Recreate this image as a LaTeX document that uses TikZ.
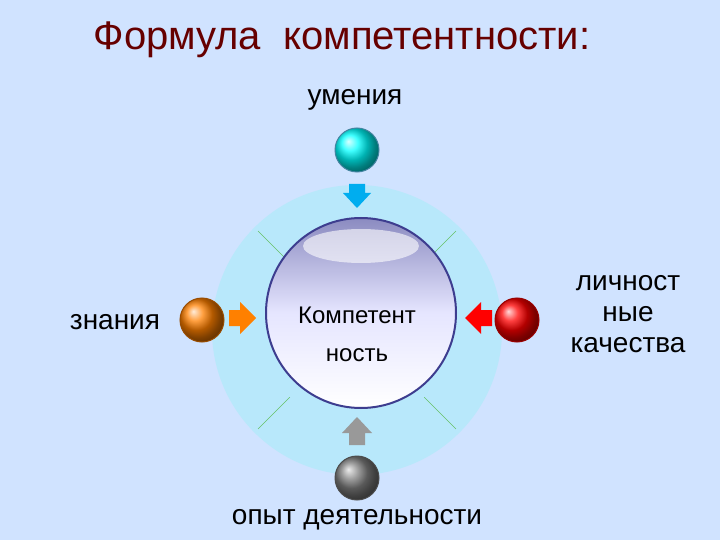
\documentclass[tikz,border=0pt]{standalone}
\usepackage{fontspec}
\setmainfont{Liberation Sans}
\begin{document}
\begin{tikzpicture}[x=1pt,y=-1pt,
  lbl/.style={font=\fontsize{28}{31}\selectfont, text=black, align=center},
  ball/.style={circle, minimum size=44pt, inner sep=0pt, draw=#1!60!black, line width=1pt, shading=ball, ball color=#1},
  arr/.style={fill=#1, draw=none}]
\fill[blue!15!cyan!20!white!92!magenta] (0,0) rectangle (720,540);
\useasboundingbox (0,0) rectangle (720,540);
\node[circle, minimum size=290pt, inner sep=0pt, fill=cyan!28!white] (big) at (357,330) {};
\foreach \a in {45,135,225,315}
  \draw[green!60!black!60, line width=0.5pt] (big.center) ++(\a:95) -- ++(\a:45);
\node[circle, minimum size=190pt, inner sep=0pt, draw=blue!40!gray!80!black, line width=2pt, top color=blue!30!gray!70, bottom color=white, middle color=blue!10!white] (core) at (361,313) {};
\fill[white, opacity=0.6] (361,246) ellipse (58 and 17);
\node[font=\fontsize{24}{26}\selectfont] (k1) at (357,315) {Компетент};
\node[font=\fontsize{24}{26}\selectfont] (k2) at (357,355) {ность};
\node[ball=cyan] (bt) at (357,150) {};
\node[ball=orange] (bl) at (202,320) {};
\node[ball=red] (br) at (517,320) {};
\node[ball=gray] (bb) at (357,478) {};
% arrows
\fill[arr=cyan] (349,184) -- (365,184) -- (365,193) -- (371,193) -- (357,208) -- (343,193) -- (349,193) -- cycle;
\fill[arr=orange] (229,310) -- (240,310) -- (240,302) -- (256,318) -- (240,334) -- (240,326) -- (229,326) -- cycle;
\fill[arr=red] (492,310) -- (481,310) -- (481,302) -- (465,318) -- (481,334) -- (481,326) -- (492,326) -- cycle;
\fill[arr=gray!80] (349,445) -- (365,445) -- (365,433) -- (372,433) -- (357,417) -- (342,433) -- (349,433) -- cycle;
\node[font=\fontsize{40}{44}\selectfont, text=red!40!black] (title) at (342,40) {Формула\ \ компетентности:};
\node[lbl] (t1) at (355,100) {умения};
\node[lbl] (t2) at (115,322) {знания};
\node[lbl] (t3) at (628,314) {личност\\ные\\качества};
\node[lbl] (t4) at (357,520) {опыт деятельности};
\end{tikzpicture}
\end{document}
